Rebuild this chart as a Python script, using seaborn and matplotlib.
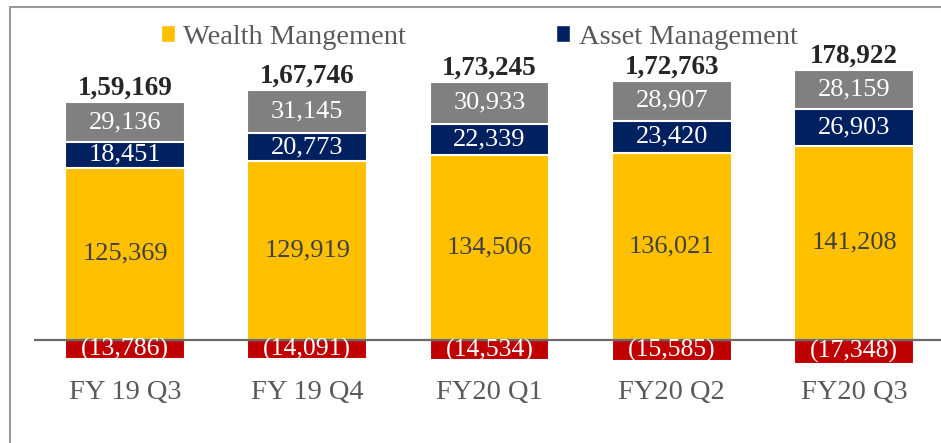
import numpy as np
import pandas as pd
import matplotlib
matplotlib.use("Agg")
import matplotlib.pyplot as plt
from matplotlib.patches import Patch, Rectangle
import seaborn as sns

# data
quarters = ["FY 19 Q3", "FY 19 Q4", "FY20 Q1", "FY20 Q2", "FY20 Q3"]
wealth = [125369, 129919, 134506, 136021, 141208]
asset = [18451, 20773, 22339, 23420, 26903]
other = [29136, 31145, 30933, 28907, 28159]
negative = [-13786, -14091, -14534, -15585, -17348]
total_labels = ["1,59,169", "1,67,746", "1,73,245", "1,72,763", "178,922"]

YELLOW = "#FFC000"
NAVY = "#002060"
GRAY = "#808080"
RED = "#C00000"

df = pd.DataFrame({"quarter": quarters, "wealth": wealth, "asset": asset,
                   "other": other, "negative": negative})
df["wa"] = df["wealth"] + df["asset"]
df["top"] = df["wa"] + df["other"]

sns.set_theme(style="white")
plt.rcParams["font.family"] = ["Liberation Serif", "DejaVu Serif"]

W, H = 941, 443
fig = plt.figure(figsize=(W / 100, H / 100), dpi=100)
# axes: left edge at 34px, right at figure edge, full height
ax = fig.add_axes([34 / W, 0, 1 - 34 / W, 1])

bw = 0.658
# draw tallest stack first, then overlay the lower parts
for col, c in [("top", GRAY), ("wa", NAVY), ("wealth", YELLOW), ("negative", RED)]:
    sns.barplot(data=df, x="quarter", y=col, color=c, width=bw, ax=ax,
                edgecolor="white", linewidth=1.5, saturation=1)

# scale: zero line at 340px, 1.3757px per 1000
px_per_unit = 1.3757 / 1000
ax.set_ylim(-(H - 340) / px_per_unit, 340 / px_per_unit)
ax.set_xlim(-0.4993, 4.477)
ax.axhline(0, color="#6b6b6b", lw=1.6, zorder=5)

for i in range(len(quarters)):
    ax.text(i, wealth[i] / 2, f"{wealth[i]:,}", ha="center", va="center",
            fontsize=19, color="#404040", zorder=6)
    ax.text(i, wealth[i] + asset[i] / 2, f"{asset[i]:,}", ha="center", va="center",
            fontsize=19, color="white", zorder=6)
    ax.text(i, df["wa"][i] + other[i] / 2, f"{other[i]:,}", ha="center", va="center",
            fontsize=19, color="white", zorder=6)
    ax.text(i, negative[i] / 2, f"({-negative[i]:,})", ha="center", va="center",
            fontsize=18.5, color="white", zorder=6)
    ax.annotate(total_labels[i], (i, df["top"][i]), xytext=(0, 10),
                textcoords="offset points", ha="center", va="center",
                fontsize=19.5, fontweight="bold", color="#262626")
    ax.annotate(quarters[i], (i, 0), xytext=(0, -37.5),
                textcoords="offset points", ha="center", va="center",
                fontsize=20.5, color="#595959")

ax.set_xlabel("")
ax.set_ylabel("")
ax.set_xticks([])
ax.set_yticks([])
for s in ax.spines.values():
    s.set_visible(False)
ax.patch.set_alpha(0)

handles = [Patch(facecolor=YELLOW, label="Wealth Mangement"),
           Patch(facecolor=NAVY, label="Asset Management")]
fig.legend(handles=handles, loc="center", bbox_to_anchor=(479 / W, 1 - 37 / H),
           ncol=2, frameon=False, fontsize=20.5, labelcolor="#595959",
           handlelength=0.5, handleheight=0.5, handletextpad=0.3,
           columnspacing=5.25)

# chart frame (only left and top edges visible in the crop)
fig.patches.append(Rectangle((10 / W, -0.2), 1.2, 1.2 - 7 / H,
                             transform=fig.transFigure, fill=False,
                             edgecolor="#9a9a9a", lw=1.5))

fig.savefig("out.png", dpi=100)
